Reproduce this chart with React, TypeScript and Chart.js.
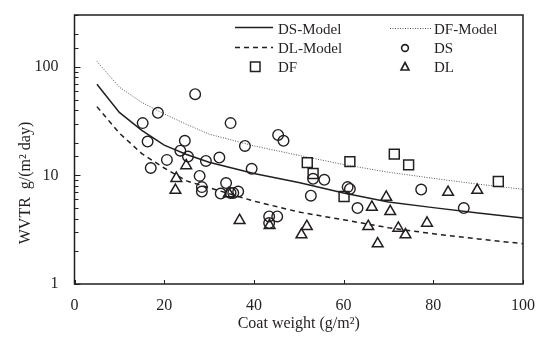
import { useEffect, useRef } from "react";
import { Chart, registerables } from "chart.js";

Chart.register(...registerables);

// ---- data ----
const modelX = [5, 10, 15, 20, 25, 30, 40, 50, 60, 70, 80, 90, 100];
const dsModelY = [69, 38, 26, 19, 15.6, 13.2, 10.4, 8.6, 6.9, 5.7, 5.05, 4.5, 4.05];
const dfModelY = [112, 65, 47, 36.8, 29.5, 24, 18.7, 15.3, 12.6, 10.7, 9.4, 8.3, 7.45];
const dlModelY = [43, 24.5, 15.9, 11.7, 8.9, 7.7, 5.8, 4.6, 3.9, 3.3, 2.9, 2.6, 2.35];

const dsX = [15.2, 16.3, 17.0, 18.6, 20.6, 23.6, 24.6, 25.3, 26.9, 27.9, 28.4, 28.4, 29.3, 32.3, 32.6, 33.8, 34.8, 34.8, 35.4, 36.5, 38.0, 39.5, 43.4, 43.4, 45.2, 45.4, 46.6, 53.2, 52.7, 55.7, 60.9, 61.4, 63.1, 77.3, 86.8];
const dsY = [30.3, 20.5, 11.7, 37.7, 13.9, 16.9, 20.8, 14.9, 56, 9.9, 7.8, 7.1, 13.6, 14.6, 6.8, 8.5, 30.3, 6.9, 6.9, 7.1, 18.7, 11.5, 4.19, 3.64, 4.19, 23.6, 20.8, 9.3, 6.5, 9.1, 7.8, 7.5, 5.0, 7.4, 5.0];

const dfX = [51.9, 53.2, 60.1, 61.4, 71.3, 74.5, 94.5];
const dfY = [13.1, 10.4, 6.4, 13.4, 15.7, 12.5, 8.8];

const dlX = [22.7, 22.5, 24.9, 34.4, 36.8, 43.5, 50.6, 51.8, 65.5, 66.3, 67.6, 69.5, 70.4, 72.2, 73.8, 78.6, 83.3, 89.8];
const dlY = [9.4, 7.3, 12.3, 6.8, 3.85, 3.46, 2.84, 3.39, 3.39, 5.1, 2.35, 6.3, 4.65, 3.27, 2.84, 3.64, 7.0, 7.3];

const xTicks = [0, 20, 40, 60, 80, 100];
const yLabelled = [1, 10, 100];

const xTitle = "Coat weight (g/m\u00B2)";
const yTitle = "WVTR  g/(m\u00B2 day)";

const INK = "#231f20";
const FONT = '"Liberation Serif", "Times New Roman", serif';

const pts = (xs: number[], ys: number[]) => xs.map((x, i) => ({ x, y: ys[i] }));

const decorPlugin = {
  id: "decor",
  afterDraw(chart: any) {
    const ctx = chart.ctx as CanvasRenderingContext2D;
    const a = chart.chartArea;
    const xs = chart.scales.x;
    const ys = chart.scales.y;
    ctx.save();
    // frame
    ctx.strokeStyle = INK;
    ctx.lineWidth = 1.5;
    ctx.strokeRect(a.left, a.top, a.right - a.left, a.bottom - a.top);
    // inward ticks
    ctx.lineWidth = 1;
    ctx.beginPath();
    ys.ticks.forEach((t: any) => {
      const p = Math.round(ys.getPixelForValue(t.value)) + 0.5;
      const len = yLabelled.includes(t.value) ? 6 : 4;
      ctx.moveTo(a.left, p);
      ctx.lineTo(a.left + len, p);
    });
    xTicks.forEach((v) => {
      const p = Math.round(xs.getPixelForValue(v)) + 0.5;
      ctx.moveTo(p, a.bottom);
      ctx.lineTo(p, a.bottom - 4);
    });
    ctx.stroke();

    // axis titles
    ctx.fillStyle = INK;
    ctx.font = `16px ${FONT}`;
    ctx.textAlign = "center";
    ctx.textBaseline = "middle";
    ctx.fillText(xTitle, (a.left + a.right) / 2, 324);
    ctx.save();
    ctx.translate(26, 183);
    ctx.rotate(-Math.PI / 2);
    ctx.fillText(yTitle, 0, 0);
    ctx.restore();

    // legend
    ctx.font = `15px ${FONT}`;
    ctx.textAlign = "left";
    ctx.textBaseline = "alphabetic";
    const c1 = 278;
    const c2 = 434;
    const b = [34, 53.3, 71.7];
    ctx.fillText("DS-Model", c1, b[0]);
    ctx.fillText("DL-Model", c1, b[1]);
    ctx.fillText("DF", c1, b[2]);
    ctx.fillText("DF-Model", c2, b[0]);
    ctx.fillText("DS", c2, b[1]);
    ctx.fillText("DL", c2, b[2]);

    ctx.strokeStyle = INK;
    // solid
    ctx.lineWidth = 1.5;
    ctx.setLineDash([]);
    ctx.beginPath();
    ctx.moveTo(235, 27.5);
    ctx.lineTo(273, 27.5);
    ctx.stroke();
    // dashed
    ctx.setLineDash([5, 4]);
    ctx.beginPath();
    ctx.moveTo(235, 47.5);
    ctx.lineTo(273, 47.5);
    ctx.stroke();
    // dotted
    ctx.lineWidth = 1;
    ctx.strokeStyle = "#555";
    ctx.setLineDash([1, 1.5]);
    ctx.beginPath();
    ctx.moveTo(390, 28.5);
    ctx.lineTo(432, 28.5);
    ctx.stroke();
    ctx.setLineDash([]);
    ctx.strokeStyle = INK;
    // square
    ctx.lineWidth = 1.5;
    ctx.strokeRect(250.5, 62, 9.5, 9.5);
    // circle
    ctx.lineWidth = 1.6;
    ctx.beginPath();
    ctx.arc(405, 48, 3.4, 0, Math.PI * 2);
    ctx.stroke();
    // triangle
    ctx.beginPath();
    ctx.moveTo(405, 62.5);
    ctx.lineTo(409, 70);
    ctx.lineTo(401, 70);
    ctx.closePath();
    ctx.stroke();
    ctx.restore();
  },
};

export default function App() {
  const ref = useRef<HTMLCanvasElement | null>(null);
  useEffect(() => {
    if (!ref.current) return;
    const tickFont = { family: FONT, size: 16 };
    const chart = new Chart(ref.current, {
      type: "scatter",
      data: {
        datasets: [
          {
            label: "DS",
            data: pts(dsX, dsY),
            pointStyle: "circle",
            pointRadius: 5.3,
            borderColor: INK,
            backgroundColor: "rgba(0,0,0,0)",
            borderWidth: 1.4,
          },
          {
            label: "DF",
            data: pts(dfX, dfY),
            pointStyle: "rect",
            pointRadius: 7,
            borderColor: INK,
            backgroundColor: "rgba(0,0,0,0)",
            borderWidth: 1.5,
          },
          {
            label: "DL",
            data: pts(dlX, dlY),
            pointStyle: "triangle",
            pointRadius: 6.2,
            borderColor: INK,
            backgroundColor: "rgba(0,0,0,0)",
            borderWidth: 1.5,
          },
          {
            label: "DS-Model",
            data: pts(modelX, dsModelY),
            showLine: true,
            pointRadius: 0,
            borderColor: INK,
            borderWidth: 1.5,
          },
          {
            label: "DF-Model",
            data: pts(modelX, dfModelY),
            showLine: true,
            pointRadius: 0,
            borderColor: "#555",
            borderWidth: 1,
            borderDash: [1, 1.5],
          },
          {
            label: "DL-Model",
            data: pts(modelX, dlModelY),
            showLine: true,
            pointRadius: 0,
            borderColor: INK,
            borderWidth: 1.5,
            borderDash: [5, 4],
          },
        ],
      } as any,
      options: {
        animation: false,
        responsive: false,
        events: [],
        layout: { padding: { top: 15, right: 31, left: 0, bottom: 0 } },
        plugins: { legend: { display: false }, tooltip: { enabled: false } },
        scales: {
          x: {
            type: "linear",
            min: 0,
            max: 100,
            ticks: { stepSize: 20, font: tickFont, color: INK, padding: 12, maxRotation: 0 },
            grid: { display: false, drawTicks: false },
            border: { display: false },
            afterFit: (s: any) => {
              s.height = 59;
              s.paddingLeft = 0;
              s.paddingRight = 0;
            },
          },
          y: {
            type: "logarithmic",
            min: 1,
            max: 300,
            ticks: {
              autoSkip: false,
              font: tickFont,
              color: INK,
              padding: 16,
              callback: (v: any) => (yLabelled.includes(Number(v)) ? String(v) : ""),
            },
            grid: { display: false, drawTicks: false },
            border: { display: false },
            afterFit: (s: any) => {
              s.width = 74.5;
              s.paddingTop = 0;
              s.paddingBottom = 0;
            },
          },
        },
      } as any,
      plugins: [decorPlugin],
    });
    return () => chart.destroy();
  }, []);
  return (
    <div style={{ position: "fixed", left: 0, top: 0, width: 554, height: 343, background: "#fff" }}>
      <canvas ref={ref} width={554} height={343} />
    </div>
  );
}
